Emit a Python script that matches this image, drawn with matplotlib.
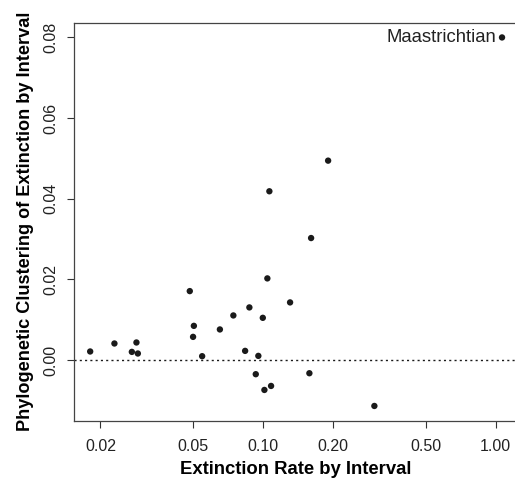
import matplotlib
matplotlib.use("Agg")
import matplotlib.pyplot as plt
import numpy as np

plt.rcParams['font.family'] = ['Liberation Sans', 'DejaVu Sans']

extinction_rate = [0.01806, 0.02296, 0.02728, 0.02855, 0.02895, 0.0484, 0.0504, 0.0500,
                   0.0547, 0.0652, 0.0745, 0.0837, 0.0873, 0.0930, 0.0954, 0.0997,
                   0.1013, 0.1043, 0.1064, 0.1082, 0.1306, 0.1581, 0.1608, 0.1903,
                   0.3008, 1.064]
clustering = [0.00216, 0.00414, 0.00206, 0.00439, 0.00166, 0.01712, 0.00851, 0.00578,
              0.00099, 0.00762, 0.01109, 0.00231, 0.01308, -0.00347, 0.00107, 0.0105,
              -0.00737, 0.02027, 0.04186, -0.00638, 0.01432, -0.00323, 0.03027, 0.04945,
              -0.01134, 0.07998]
label_name = "Maastrichtian"
xticks = [0.02, 0.05, 0.10, 0.20, 0.50, 1.00]
xtick_labels = ["0.02", "0.05", "0.10", "0.20", "0.50", "1.00"]
yticks = [0.00, 0.02, 0.04, 0.06, 0.08]
ytick_labels = ["0.00", "0.02", "0.04", "0.06", "0.08"]

W, H = 515, 479
fig = plt.figure(figsize=(W/100, H/100), dpi=100)
left, right, top, bottom = 73.7, 518.5, 22.7, 420.7
ax = fig.add_axes([left/W, 1-bottom/H, (right-left)/W, (bottom-top)/H])

ax.scatter(extinction_rate, clustering, s=21, color='#1a1a1a', edgecolors='none', zorder=3)
ax.set_xscale('log')
lx = np.log10(extinction_rate)
r = lx.max() - lx.min()
ax.set_xlim(10**(lx.min()-0.04*r), 10**(lx.max()+0.04*r))
ry = max(clustering) - min(clustering)
ax.set_ylim(min(clustering)-0.04*ry, max(clustering)+0.04*ry)

ax.axhline(0, color='#1a1a1a', lw=1.0, dashes=(1.5, 2.3), zorder=2)

ax.set_xticks(xticks)
ax.set_xticklabels(xtick_labels)
ax.xaxis.set_minor_locator(matplotlib.ticker.NullLocator())
ax.set_yticks(yticks)
ax.set_yticklabels(ytick_labels, rotation=90, va='center')
ax.tick_params(axis='both', length=5, width=0.8, color='#333333', labelsize=11.5,
               labelcolor='#222222')
ax.tick_params(axis='x', pad=8)
ax.tick_params(axis='y', pad=6)
for s in ax.spines.values():
    s.set_color('#444444')
    s.set_linewidth(0.9)

ax.set_xlabel("Extinction Rate by Interval", fontsize=13.3, fontweight='bold', labelpad=5)
ax.set_ylabel("Phylogenetic Clustering of Extinction by Interval", fontsize=13.1,
              fontweight='bold', labelpad=7)

ax.annotate(label_name, (extinction_rate[-1], clustering[-1]), xytext=(-4.5, 0),
            textcoords='offset points', ha='right', va='center', fontsize=13.3, color='#222222')

fig.savefig("out.png", dpi=100)
